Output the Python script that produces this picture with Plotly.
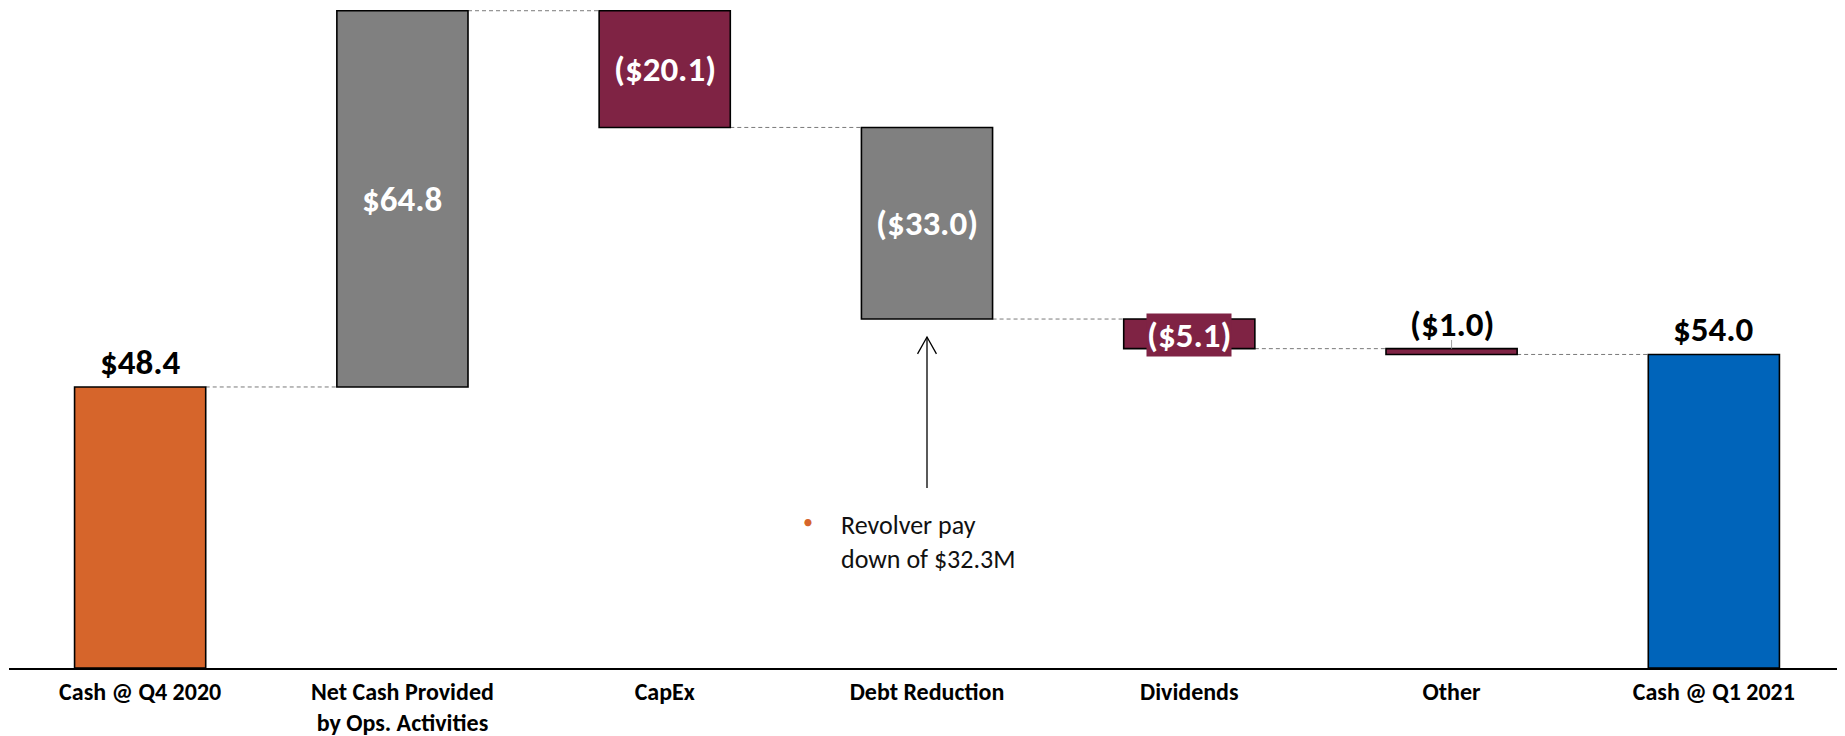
import plotly.graph_objects as go

categories = ["Cash @ Q4 2020", "Net Cash Provided<br>by Ops. Activities", "CapEx",
              "Debt Reduction", "Dividends", "Other", "Cash @ Q1 2021"]
values = [48.4, 64.8, -20.1, -33.0, -5.1, -1.0, 54.0]
measures = ["absolute", "relative", "relative", "relative", "relative", "relative", "total"]
value_labels = ["$48.4", "$64.8", "($20.1)", "($33.0)", "($5.1)", "($1.0)", "$54.0"]
label_modes = ["above", "inside", "inside", "inside", "boxed", "above", "above"]
bar_colors = ["#D6652B", "#808080", "#7F2344", "#808080", "#7F2344", "#7F2344", "#0064BA"]
note_lines = ["Revolver pay", "down of $32.3M"]

FONT = "Carlito, Lato, sans-serif"
BAR_W = 0.5
VAL_SIZE = 35

# compute waterfall geometry from the data
bases, heights, levels = [], [], []
level = 0.0
for v, m in zip(values, measures):
    if m == "absolute":
        b, h = 0.0, v
        level = v
    elif m == "total":
        b, h = 0.0, level
    else:
        b = level if v >= 0 else level + v
        h = abs(v)
        level += v
    bases.append(b)
    heights.append(h)
    levels.append(level)

xs = list(range(len(categories)))

fig = go.Figure()
fig.add_trace(go.Bar(
    x=xs, y=heights, base=bases, width=BAR_W,
    marker=dict(color=bar_colors, line=dict(color="black", width=1.6)),
    hoverinfo="skip",
))

shapes = []
for i in range(len(xs) - 1):
    shapes.append(dict(type="line", xref="x", yref="y",
                       x0=xs[i] + BAR_W / 2, x1=xs[i + 1] - BAR_W / 2,
                       y0=levels[i], y1=levels[i],
                       line=dict(color="#7a7a7a", width=1, dash="4px,3px"), layer="below"))

annotations = []
for i, (lab, mode) in enumerate(zip(value_labels, label_modes)):
    top = bases[i] + heights[i]
    if mode == "above":
        annotations.append(dict(x=xs[i], y=top, xref="x", yref="y", text=lab,
                                showarrow=False, yanchor="bottom", yshift=2,
                                font=dict(family=FONT, size=VAL_SIZE, color="black", weight="bold")))
    elif mode == "inside":
        annotations.append(dict(x=xs[i], y=bases[i] + heights[i] / 2, xref="x", yref="y",
                                text=lab, showarrow=False, yanchor="middle",
                                font=dict(family=FONT, size=VAL_SIZE, color="white", weight="bold")))
    else:
        annotations.append(dict(x=xs[i], y=bases[i] + heights[i] / 2, xref="x", yref="y",
                                text=lab, showarrow=False, yanchor="middle", yshift=-1,
                                bgcolor=bar_colors[i], borderpad=0,
                                font=dict(family=FONT, size=VAL_SIZE, color="white", weight="bold")))
    if mode == "above" and measures[i] == "relative":
        shapes.append(dict(type="line", xref="x", yref="y", x0=xs[i], x1=xs[i],
                           y0=top, y1=top + 1.5, line=dict(color="#a0a0a0", width=1)))

# arrow pointing up at the debt reduction bar (open V head)
debt_i = 3
debt_bottom = bases[debt_i]
head_y = debt_bottom - 3.1
tail_y = debt_bottom - 29.1
shapes.append(dict(type="line", xref="x", yref="y", x0=xs[debt_i], x1=xs[debt_i],
                   y0=tail_y, y1=head_y, line=dict(color="black", width=1.3)))
shapes.append(dict(type="path", xref="x", yref="y",
                   path=f"M {xs[debt_i] - 0.036} {head_y - 2.9} L {xs[debt_i]} {head_y} "
                        f"L {xs[debt_i] + 0.036} {head_y - 2.9}",
                   line=dict(color="black", width=1.3)))
annotations.append(dict(x=xs[debt_i] - 0.454, y=debt_bottom - 35.0, xref="x", yref="y",
                        text="•", showarrow=False, xanchor="center", yanchor="middle",
                        font=dict(family=FONT, size=20, color="#D6652B")))
annotations.append(dict(x=xs[debt_i] - 0.335, y=debt_bottom - 38.4, xref="x", yref="y",
                        text="<br>".join(note_lines), showarrow=False, xanchor="left",
                        yanchor="middle", align="left",
                        font=dict(family=FONT, size=26, color="#111111")))

# page body has an 8px margin; size the figure so the plot lands where the reference has it
fig.update_layout(
    width=1837, height=728,
    margin=dict(l=1, r=0, t=0, b=68, autoexpand=False),
    paper_bgcolor="white", plot_bgcolor="white",
    showlegend=False, bargap=0.5,
    shapes=shapes, annotations=annotations,
    xaxis=dict(tickmode="array", tickvals=xs, ticktext=categories,
               range=[-0.5, len(xs) - 0.5], showgrid=False, zeroline=False,
               showline=True, linecolor="black", linewidth=2, ticks="",
               ticklabelstandoff=1, automargin=False,
               tickfont=dict(family=FONT, size=24, color="black", weight="bold")),
    yaxis=dict(range=[0, 113.67], visible=False, showgrid=False, zeroline=False,
               automargin=False),
)

fig.write_html("out.html")
